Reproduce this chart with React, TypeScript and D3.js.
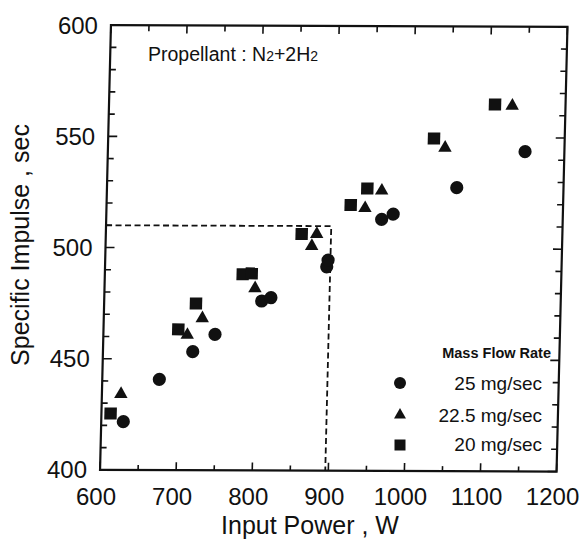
import React from "react";
import * as d3 from "d3";

const circlesX = [629, 675, 718, 746.7, 807, 819, 891.4, 892.9, 962, 977, 1059.7, 1148.3];
const circlesY = [421.7, 440.8, 453.3, 461.1, 476.2, 477.7, 491.7, 494.7, 513.1, 515.5, 527.5, 543.8];
const trianglesX = [625, 710.3, 729.5, 797.8, 871, 877.2, 939.8, 961.2, 1043, 1130];
const trianglesY = [434.1, 460.8, 468.3, 481.9, 501, 506.4, 518.1, 526, 545.4, 564.4];
const squaresX = [612, 698.3, 720.7, 781.2, 793, 857.4, 920.9, 942.2, 1028.2, 1107.3];
const squaresY = [425.4, 463.3, 475, 488.2, 488.6, 506.4, 519.5, 527, 549.6, 565];
const xTicks = [600, 700, 800, 900, 1000, 1100, 1200];
const yTicks = [400, 450, 500, 550, 600];
const legendLabels = ["25 mg/sec", "22.5 mg/sec", "20 mg/sec"];
const refPower = 896;
const refImpulse = 510;

const W = 586, H = 542;
// plot frame in local coordinates; the scanned frame is slightly sheared
const PW = 456.5, PH = 444.7;
const OX = 110.95, OY = 25.15, SX = 0.003724, KY = -0.02451;
const FONT = "'Liberation Sans', Arial, Helvetica, sans-serif";
const ink = "#111";

function toScreen(lx: number, ly: number): [number, number] {
  return [OX + lx + KY * ly, OY + SX * lx + ly];
}

export default function App() {
  const x = d3.scaleLinear().domain([600, 1200]).range([0, PW]);
  const y = d3.scaleLinear().domain([400, 600]).range([PH, 0]);
  const tri = d3.symbol().type(d3.symbolTriangle).size(78)();
  const triLeg = d3.symbol().type(d3.symbolTriangle).size(62)();
  const xMinor = d3.range(600, 1201, 50);
  const yMinor = d3.range(400, 601, 10);
  return (
    <svg width={W} height={H} style={{ position: "absolute", left: 0, top: 0, background: "#fff" }}>
      <g transform={`matrix(1,${SX},${KY},1,${OX},${OY})`}>
        {xMinor.map((v) => {
          const major = v % 100 === 0;
          return (
            <g key={"xt" + v}>
              <line x1={x(v)} x2={x(v)} y1={PH} y2={PH - (major ? 8 : 5)} stroke={ink} strokeWidth={1.6} />
              <line x1={x(v)} x2={x(v)} y1={0} y2={major ? 8 : 6} stroke={ink} strokeWidth={1.6} />
            </g>
          );
        })}
        {yMinor.map((v) => {
          const len = v % 50 === 0 ? 9 : 6;
          return (
            <g key={"yt" + v}>
              <line x1={0} x2={len} y1={y(v)} y2={y(v)} stroke={ink} strokeWidth={1.6} />
              <line x1={PW} x2={PW - len} y1={y(v)} y2={y(v)} stroke={ink} strokeWidth={1.6} />
            </g>
          );
        })}
        <rect x={0} y={0} width={PW} height={PH} fill="none" stroke={ink} strokeWidth={2.2} />
        <path
          d={`M0,${y(refImpulse)}H${x(refPower)}V${PH}`}
          fill="none"
          stroke={ink}
          strokeWidth={1.8}
          strokeDasharray="6,3.5"
        />
        {circlesX.map((v, i) => (
          <circle key={"c" + i} cx={x(v)} cy={y(circlesY[i])} r={6.6} fill={ink} />
        ))}
        {trianglesX.map((v, i) => (
          <path key={"t" + i} d={tri} transform={`translate(${x(v)},${y(trianglesY[i])})`} fill={ink} />
        ))}
        {squaresX.map((v, i) => (
          <rect key={"s" + i} x={x(v) - 6.2} y={y(squaresY[i]) - 6} width={12.4} height={12} fill={ink} />
        ))}
      </g>
      {xTicks.map((v) => {
        const [sx] = toScreen(x(v), PH);
        return (
          <text key={"xl" + v} x={sx - 4} y={505} textAnchor="middle" fontFamily={FONT} fontSize={24} fill={ink}>
            {v}
          </text>
        );
      })}
      {yTicks.map((v) => {
        const [sx, sy] = toScreen(0, y(v));
        return (
          <text key={"yl" + v} x={sx - 13} y={sy + 8.5} textAnchor="end" fontFamily={FONT} fontSize={24} fill={ink}>
            {v}
          </text>
        );
      })}
      <text x={310} y={534} textAnchor="middle" fontFamily={FONT} fontSize={25} fill={ink}>
        Input Power , W
      </text>
      <text
        transform={`translate(29,245) rotate(-90)`}
        textAnchor="middle"
        fontFamily={FONT}
        fontSize={25}
        fill={ink}
      >
        Specific Impulse , sec
      </text>
      <text x={148} y={61} fontFamily={FONT} fontSize={19.5} fill={ink}>
        Propellant : N
        <tspan fontSize={14}>2</tspan>
        +2H
        <tspan fontSize={14}>2</tspan>
      </text>
      <text x={551} y={358} textAnchor="end" fontFamily={FONT} fontSize={14.5} fontWeight="bold" fill={ink}>
        Mass Flow Rate
      </text>
      {legendLabels.map((lab, i) => {
        const ly = [383, 415, 445][i];
        const tb = [390, 422, 451][i];
        return (
          <g key={"lg" + i}>
            {i === 0 && <circle cx={400} cy={ly} r={6} fill={ink} />}
            {i === 1 && <path d={triLeg} transform={`translate(400,${ly})`} fill={ink} />}
            {i === 2 && <rect x={394.5} y={ly - 5.5} width={11} height={11} fill={ink} />}
            <text x={542} y={tb} textAnchor="end" fontFamily={FONT} fontSize={19} fill={ink}>
              {lab}
            </text>
          </g>
        );
      })}
    </svg>
  );
}
